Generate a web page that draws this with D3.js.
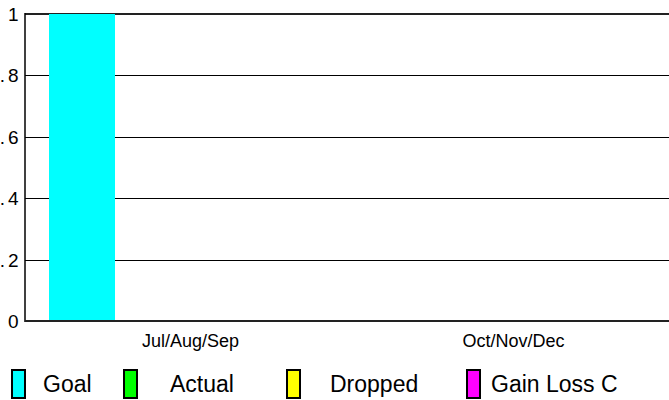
<!DOCTYPE html>
<html><head><meta charset="utf-8">
<script src="https://cdn.jsdelivr.net/npm/d3@7"></script>
<style>body{margin:0;background:#fff}svg{display:block}</style>
</head><body>
<svg id="c" width="669" height="400"></svg>
<script>
const categories = ["Jul/Aug/Sep", "Oct/Nov/Dec"];
const series = ["Goal", "Actual", "Dropped", "Gain Loss C"];
const colors = ["#00FFFF", "#00FF00", "#FFFF00", "#FF00FF"];
const goal = [1, 0];
const actual = [0, 0];
const dropped = [0, 0];
const gainLoss = [0, 0];
const yTicks = [0, 0.2, 0.4, 0.6, 0.8, 1];
const yTickLabels = ["0", ".2", ".4", ".6", ".8", "1"];

(function () {
const values = [goal, actual, dropped, gainLoss];
const svg = d3.select("#c");
const font = "Liberation Sans, Arial, Helvetica, sans-serif";

const pL = 25, pR = 669, pT = 14, pB = 321;
const y = d3.scaleLinear().domain([0, 1]).range([pB, pT]);
const x0 = d3.scaleBand().domain(categories).range([29, 675]);
const x1 = d3.scaleBand().domain(series).range([20, 284]);

// gridlines
svg.append("g").selectAll("line").data(yTicks.filter(t => t > 0 && t < 1)).join("line")
  .attr("x1", pL).attr("x2", pR)
  .attr("y1", d => Math.round(y(d)) + 0.5).attr("y2", d => Math.round(y(d)) + 0.5)
  .attr("stroke", "#000").attr("stroke-width", 1);
// top line
svg.append("line").attr("x1", pL).attr("x2", pR).attr("y1", pT).attr("y2", pT)
  .attr("stroke", "#222").attr("stroke-width", 2);

// bars
const bars = [];
series.forEach((s, si) => categories.forEach((c, ci) => bars.push({s, c, v: values[si][ci], col: colors[si]})));
svg.append("g").selectAll("rect").data(bars.filter(d => d.v > 0)).join("rect")
  .attr("x", d => x0(d.c) + x1(d.s))
  .attr("width", x1.bandwidth())
  .attr("y", d => y(d.v))
  .attr("height", d => y(0) - y(d.v))
  .attr("fill", d => d.col);

// axes lines
svg.append("line").attr("x1", pL).attr("x2", pL).attr("y1", pT - 1).attr("y2", pB + 1)
  .attr("stroke", "#000").attr("stroke-width", 1.5);
svg.append("line").attr("x1", pL).attr("x2", pR).attr("y1", pB).attr("y2", pB)
  .attr("stroke", "#222").attr("stroke-width", 2);

// y labels
const yl = svg.append("g").selectAll("text").data(yTicks).join("text")
  .attr("x", 18.5).attr("y", d => y(d) + 7)
  .attr("text-anchor", "end").attr("font-family", font).attr("font-size", 19)
  .attr("fill", "#000");
yl.each(function (d, i) {
  const s = yTickLabels[i];
  const t = d3.select(this);
  if (s.startsWith(".")) {
    t.append("tspan").text(".");
    t.append("tspan").attr("dx", 3).text(s.slice(1));
  } else {
    t.text(s);
  }
});

// x labels
svg.append("g").selectAll("text").data(categories).join("text")
  .attr("x", d => x0(d) + x0.bandwidth() / 2).attr("y", 347)
  .attr("text-anchor", "middle").attr("font-family", font).attr("font-size", 18)
  .attr("fill", "#000").text(d => d);

// legend
const legSwatchX = [11, 123, 286, 466];
const legTextX = [43, 170, 330, 491];
const lg = svg.append("g");
series.forEach((s, i) => {
  lg.append("rect").attr("x", legSwatchX[i] + 1).attr("y", 370).attr("width", 13).attr("height", 28)
    .attr("fill", colors[i]).attr("stroke", "#000").attr("stroke-width", 2);
  lg.append("text").attr("x", legTextX[i]).attr("y", 391.5)
    .attr("font-family", font).attr("font-size", 23).attr("fill", "#000").text(s);
});
})();
</script>
</body></html>
